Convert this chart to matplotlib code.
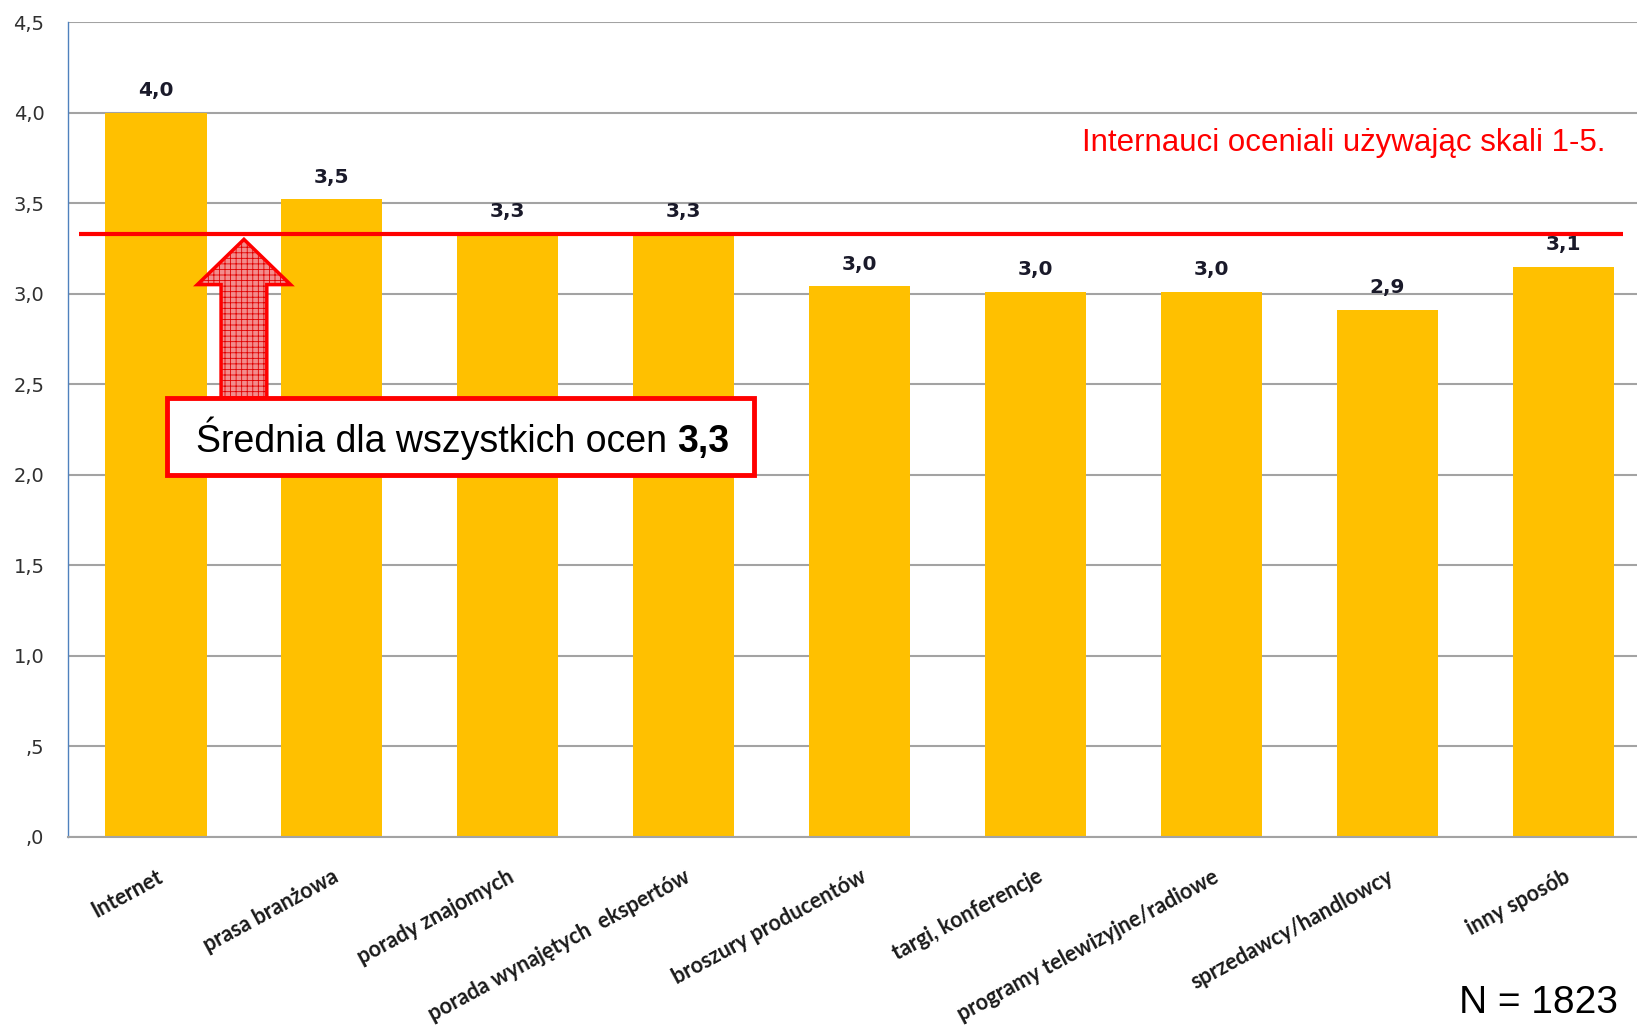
import matplotlib
matplotlib.use('Agg')
import matplotlib.pyplot as plt
from matplotlib.patches import Polygon, Rectangle
from matplotlib import font_manager

# ---------------- data ----------------
categories = ['Internet', 'prasa branżowa', 'porady znajomych',
              'porada wynajętych  ekspertów', 'broszury producentów',
              'targi, konferencje', 'programy telewizyjne/radiowe',
              'sprzedawcy/handlowcy', 'inny sposób']
values = [4.0, 3.52, 3.33, 3.33, 3.04, 3.01, 3.01, 2.91, 3.15]
value_labels = ['4,0', '3,5', '3,3', '3,3', '3,0', '3,0', '3,0', '2,9', '3,1']
y_ticks = [0.0, 0.5, 1.0, 1.5, 2.0, 2.5, 3.0, 3.5, 4.0, 4.5]
y_tick_labels = [',0', ',5', '1,0', '1,5', '2,0', '2,5', '3,0', '3,5', '4,0', '4,5']
mean_value = 3.33
mean_label = '3,3'
n_label = 'N = 1823'
note_text = 'Internauci oceniali używając skali 1-5.'
box_text = 'Średnia dla wszystkich ocen '

# ---------------- fonts ----------------
avail = {f.name for f in font_manager.fontManager.ttflist}
narrow = ['Liberation Sans Narrow', 'DejaVu Sans'] if 'Liberation Sans Narrow' in avail else ['Liberation Sans', 'DejaVu Sans']
label_font = ['Lato', 'DejaVu Sans'] if 'Lato' in avail else ['DejaVu Sans']

BAR = '#FFC000'
RED = '#FF0000'

fig = plt.figure(figsize=(16.37, 10.27), dpi=100)
W, H = 1637, 1027
ax = fig.add_axes([68 / W, 190 / H, (W - 68) / W, (837 - 22) / H])

x = list(range(len(categories)))
ax.bar(x, values, width=0.575, color=BAR, zorder=2)
ax.set_xlim(-0.5, 8.418)
ax.set_ylim(0, 4.5)

ax.set_yticks(y_ticks)
ax.set_yticklabels(y_tick_labels, fontsize=14, color='#303030', family='DejaVu Sans')
ax.tick_params(axis='y', length=0, pad=17)
ax.yaxis.grid(True, color='#a3a3a3', linewidth=1.5, zorder=0)
ax.set_axisbelow(True)

ax.set_xticks(x)
ax.set_xticklabels(categories, rotation=28.5, ha='right', rotation_mode='anchor',
                   fontsize=15.5, fontweight='bold', family=label_font, color='#1a1a1a')
ax.tick_params(axis='x', length=0, pad=21)

for s in ['top', 'right']:
    ax.spines[s].set_visible(False)
ax.spines['left'].set_color('#4f81bd')
ax.spines['left'].set_linewidth(1.0)
ax.spines['bottom'].set_color('#a3a3a3')
ax.spines['bottom'].set_linewidth(1.5)

# value labels
for xi, v, lab in zip(x, values, value_labels):
    ax.annotate(lab, (xi, v), xytext=(0, 9), textcoords='offset points',
                ha='center', va='bottom', fontsize=14.5, fontweight='bold',
                color='#1a1a2a', family='DejaVu Sans', zorder=5)

# mean line
ax.plot([-0.44, 8.34], [mean_value, mean_value], color=RED, linewidth=3, zorder=4,
        solid_capstyle='butt')

# block arrow (annotation shape) pointing at mean line
ax_c = 0.5
tip = mean_value - 0.03
head_base = 3.05
head_hw = 0.265
shaft_hw = 0.13
box_top, box_bot = 2.424, 2.0
pts = [(ax_c, tip), (ax_c + head_hw, head_base), (ax_c + shaft_hw, head_base),
       (ax_c + shaft_hw, box_top), (ax_c - shaft_hw, box_top),
       (ax_c - shaft_hw, head_base), (ax_c - head_hw, head_base)]
plt.rcParams['hatch.linewidth'] = 0.6
arrow = Polygon(pts, closed=True, facecolor='#f28c8c', edgecolor='#e00000', linewidth=0,
                hatch='+++', zorder=6)
ax.add_patch(arrow)
ax.add_patch(Polygon(pts, closed=True, facecolor='none', edgecolor=RED,
                     linewidth=2.5, zorder=6.1))

# box
bx0, bx1 = 0.065, 3.40
ax.add_patch(Rectangle((bx0, box_bot), bx1 - bx0, box_top - box_bot,
                       facecolor='white', edgecolor=RED, linewidth=3.5, zorder=7))
t1 = ax.text(bx0 + 0.16, 2.125, box_text, fontsize=27, family=narrow,
             ha='left', va='baseline', color='black', zorder=8)
fig.canvas.draw()
r = fig.canvas.get_renderer()
bb = t1.get_window_extent(r)
inv = ax.transData.inverted()
x_end = inv.transform((bb.x1, bb.y0))[0]
ax.text(x_end, 2.125, mean_label, fontsize=27, family=narrow, fontweight='bold',
        ha='left', va='baseline', color='black', zorder=8)

# notes
fig.text(1606 / W, 1 - 143 / H, note_text, fontsize=22.5, family=narrow,
         color=RED, ha='right', va='center')
fig.text(1618 / W, 1 - 1003 / H, n_label, fontsize=28, family=narrow,
         color='black', ha='right', va='center')

fig.savefig('out.png', dpi=100)
